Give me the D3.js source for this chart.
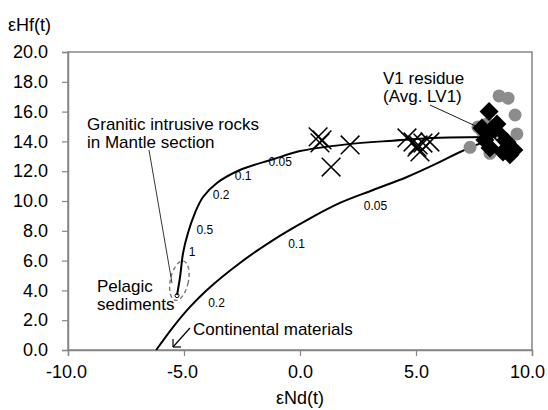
<!DOCTYPE html>
<html>
<head>
<meta charset="utf-8">
<script src="https://cdn.jsdelivr.net/npm/d3@7"></script>
<style>
  body { margin: 0; background: #fff; }
  text { font-family: "Liberation Sans", Arial, sans-serif; fill: #000; }
</style>
</head>
<body>
<script>
const WIDTH = 548
const HEIGHT = 410

// Axes
const xTicks = [-10, -5, 0, 5, 10]
const yTicks = [0, 2, 4, 6, 8, 10, 12, 14, 16, 18, 20]

// Mixing curve: pelagic sediments -> V1 residue
const upperNd = [-5.30, -5.17, -5.04, -4.83, -4.53, -4.18, -3.58, -2.59, -1.16, 0.0, 2.0, 4.0, 6.0, 8.3]
const upperHf = [3.69, 4.90, 6.51, 7.85, 9.19, 10.27, 11.21, 12.08, 12.8, 13.35, 13.8, 14.05, 14.25, 14.3]
const upperLabels = ["1", "0.5", "0.2", "0.1", "0.05"]
const upperLabelNd = [-4.65, -4.1, -3.4, -2.45, -0.85]
const upperLabelHf = [6.6, 8.1, 10.4, 11.7, 12.6]

// Mixing curve: continental materials -> V1 residue
const lowerNd = [-6.2, -5.47, -4.74, -4.01, -2.59, -1.16, 0.30, 1.72, 3.15, 4.61, 6.03, 6.9, 8.3]
const lowerHf = [0.0, 1.54, 2.89, 4.03, 5.84, 7.38, 8.72, 9.87, 10.74, 11.61, 12.62, 13.29, 14.2]
const lowerLabels = ["0.2", "0.1", "0.05"]
const lowerLabelNd = [-3.6, -0.15, 3.25]
const lowerLabelHf = [3.2, 7.1, 9.7]

// Granitic intrusive rocks (crosses)
const graniteNd = [0.78, 0.95, 0.86, 2.16, 1.34, 4.61, 4.87, 5.09, 5.30, 5.60, 5.17, 5.04]
const graniteHf = [14.3, 14.1, 13.9, 13.76, 12.28, 14.23, 13.96, 13.76, 13.89, 13.96, 13.29, 13.62]

// grey circles
const greyNd = [8.58, 8.97, 9.27, 9.35, 8.06, 7.84, 8.19, 7.67, 7.33, 8.75]
const greyHf = [17.05, 16.9, 15.77, 14.5, 15.17, 14.7, 13.2, 14.97, 13.6, 13.3]

// V1 residue (diamonds)
const residueNd = [8.15, 7.84, 8.28, 8.62, 8.92, 9.22, 8.75, 8.19, 7.97, 8.49, 9.05]
const residueHf = [16.0, 14.9, 14.77, 14.43, 13.96, 13.42, 13.29, 13.56, 14.1, 15.17, 13.1]
const avgLV1 = [8.5, 14.25]
const pelagic = [-5.3, 3.65]

const x = d3.scaleLinear().domain([-10, 10]).range([68, 532])
const y = d3.scaleLinear().domain([0, 20]).range([350, 52])

const svg = d3.select("body").append("svg")
    .attr("width", WIDTH)
    .attr("height", HEIGHT)

// frame
svg.append("rect")
    .attr("x", x(-10)).attr("y", y(20))
    .attr("width", x(10) - x(-10)).attr("height", y(0) - y(20))
    .attr("fill", "none").attr("stroke", "#868686").attr("stroke-width", 1.5)

const xAxis = svg.append("g")
    .attr("transform", `translate(0,${y(0)})`)
    .call(d3.axisBottom(x).tickValues(xTicks).tickSize(6).tickFormat(d => d.toFixed(1)))
const yAxis = svg.append("g")
    .attr("transform", `translate(${x(-10)},0)`)
    .call(d3.axisLeft(y).tickValues(yTicks).tickSize(6).tickFormat(d => d.toFixed(1)))

for (const ax of [xAxis, yAxis]) {
    ax.select(".domain").attr("stroke", "#868686").attr("stroke-width", 1.5)
    ax.selectAll(".tick line").attr("stroke", "#868686").attr("stroke-width", 1.2)
    ax.selectAll(".tick text")
        .attr("font-family", "Liberation Sans, Arial, sans-serif")
        .attr("font-size", 18).attr("fill", "#000")
}
xAxis.selectAll(".tick text").attr("dy", "1.05em")
    .attr("x", d => d === 10 ? -5 : (d < 0 ? -2 : 0))
yAxis.selectAll(".tick text").attr("x", -20)

// axis titles
svg.append("text").text("εHf(t)")
    .attr("x", 8).attr("y", 31).attr("font-size", 18)
svg.append("text").text("εNd(t)")
    .attr("x", x(0)).attr("y", 404).attr("font-size", 18).attr("text-anchor", "middle")

// mixing curves
const line = d3.line()
    .x(d => x(d[0]))
    .y(d => y(d[1]))
    .curve(d3.curveCatmullRom)

svg.append("path")
    .attr("d", line(lowerNd.map((d, i) => [d, lowerHf[i]])))
    .attr("fill", "none").attr("stroke", "#000").attr("stroke-width", 2)
svg.append("path")
    .attr("d", line(upperNd.map((d, i) => [d, upperHf[i]])))
    .attr("fill", "none").attr("stroke", "#000").attr("stroke-width", 2)

// proportion labels
const curveLabels = upperLabels.map((t, i) => [t, upperLabelNd[i], upperLabelHf[i]])
    .concat(lowerLabels.map((t, i) => [t, lowerLabelNd[i], lowerLabelHf[i]]))
svg.selectAll(".plabel")
    .data(curveLabels)
    .enter()
    .append("text")
    .attr("class", "plabel")
    .attr("x", d => x(d[1]))
    .attr("y", d => y(d[2]))
    .attr("font-size", 12)
    .attr("text-anchor", "middle")
    .attr("dy", "0.35em")
    .text(d => d[0])

// pelagic sediments field
svg.append("ellipse")
    .attr("cx", x(-5.2)).attr("cy", y(4.65))
    .attr("rx", 9).attr("ry", 20)
    .attr("transform", `rotate(12,${x(-5.2)},${y(4.65)})`)
    .attr("fill", "none").attr("stroke", "#777").attr("stroke-width", 1.4)
    .attr("stroke-dasharray", "4,3")
svg.append("circle")
    .attr("cx", x(pelagic[0])).attr("cy", y(pelagic[1])).attr("r", 2)
    .attr("fill", "none").attr("stroke", "#000").attr("stroke-width", 1)

// grey circles
svg.selectAll(".grey")
    .data(greyNd)
    .enter()
    .append("circle")
    .attr("cx", d => x(d))
    .attr("cy", (d, i) => y(greyHf[i]))
    .attr("r", 6.5)
    .attr("fill", "#8c8c8c")

// diamonds
const diamond = d3.symbol().type(d3.symbolSquare).size(180)
svg.selectAll(".residue")
    .data(residueNd)
    .enter()
    .append("path")
    .attr("d", diamond)
    .attr("transform", (d, i) => `translate(${x(d)},${y(residueHf[i])}) rotate(45)`)
    .attr("fill", "#000")

svg.append("circle")
    .attr("cx", x(avgLV1[0])).attr("cy", y(avgLV1[1])).attr("r", 1.2)
    .attr("fill", "#bbb")

// crosses
const cross = d3.symbol().type(d3.symbolX).size(230)
svg.selectAll(".granite")
    .data(graniteNd)
    .enter()
    .append("path")
    .attr("d", cross)
    .attr("transform", (d, i) => `translate(${x(d)},${y(graniteHf[i])})`)
    .attr("fill", "none").attr("stroke", "#000").attr("stroke-width", 1.5)

// annotations
const note = (lines, x0, y0) => {
    const t = svg.append("text").attr("x", x0).attr("y", y0).attr("font-size", 17)
    lines.forEach((s, i) => t.append("tspan").attr("x", x0).attr("dy", i ? 18 : 0).text(s))
}
note(["Granitic intrusive rocks", "in Mantle section"], 87, 130)
note(["V1 residue", "(Avg. LV1)"], 383, 84)
note(["Pelagic", "sediments"], 97, 292)
note(["Continental materials"], 193, 335)

const leader = (x1, y1, x2, y2, w) => svg.append("line")
    .attr("x1", x1).attr("y1", y1).attr("x2", x2).attr("y2", y2)
    .attr("stroke", "#000").attr("stroke-width", w)
leader(149, 150, 172, 283, 0.8)
leader(430, 105, 482, 129, 0.9)
leader(190, 328, 173, 347, 1.2)
leader(173, 347, 173, 339, 1.2)
leader(173, 347, 181, 347, 1.2)
</script>
</body>
</html>
